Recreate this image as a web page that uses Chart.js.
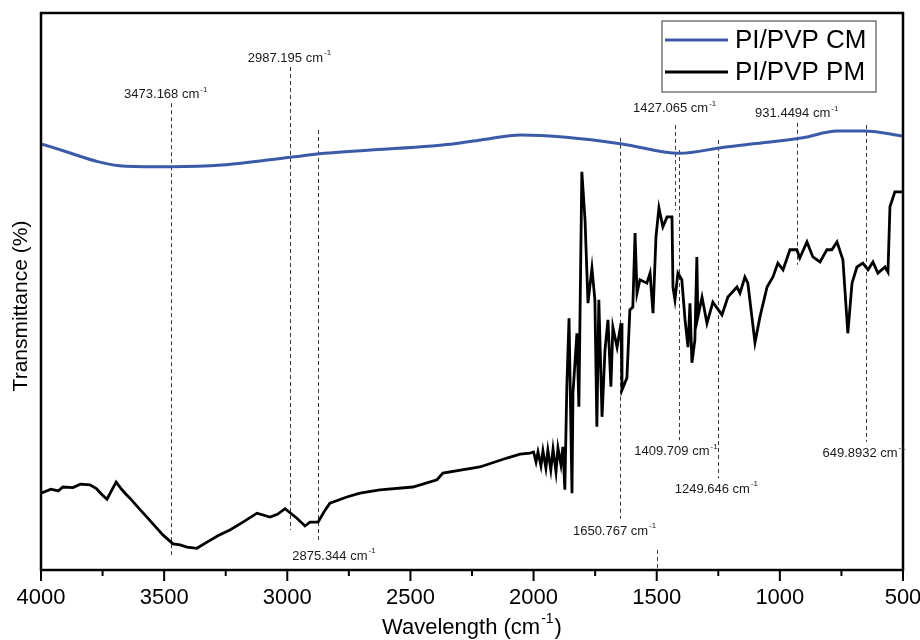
<!DOCTYPE html>
<html>
<head>
<meta charset="utf-8">
<script src="https://cdn.jsdelivr.net/npm/chart.js"></script>
<style>
  body { margin: 0; background: #fff; }
  canvas { display: block; }
</style>
</head>
<body>
<canvas id="ftir" width="920" height="640"></canvas>
<script>
// === data ===
const seriesLabels = ["PI/PVP CM", "PI/PVP PM"];

const cmWavenumbers = [4000, 3655, 3472, 3265, 2989, 2851, 2327, 2214, 2051, 1868, 1641, 1410, 1227, 1069, 906, 768, 654, 500];
const cmValues = [76.5, 72.5, 72.4, 72.7, 74.1, 74.8, 76.5, 77.2, 78.1, 77.7, 76.5, 74.8, 75.9, 76.7, 77.6, 78.8, 78.8, 77.9];

const pmWavenumbers = [
  4000, 3960, 3930, 3911, 3870, 3840, 3801, 3775, 3752, 3732, 3712, 3695, 3685, 3671, 3655, 3639,
  3605, 3570, 3540, 3505, 3464, 3435, 3407, 3367, 3326, 3280, 3233, 3180, 3123, 3070, 3040, 3009,
  2961, 2928, 2908, 2875, 2850, 2827, 2758, 2705, 2624, 2490, 2392, 2368, 2218, 2108, 2055, 2015,
  2000, 1990, 1982, 1970, 1962, 1950, 1942, 1930, 1921, 1909, 1901, 1889, 1881, 1873, 1865, 1856,
  1844, 1840, 1824, 1816, 1804, 1791, 1779, 1763, 1751, 1743, 1735, 1722, 1710, 1698, 1686, 1678,
  1661, 1645, 1641, 1621, 1609, 1597, 1588, 1580, 1568, 1540, 1527, 1515, 1503, 1491, 1475, 1458,
  1438, 1434, 1426, 1414, 1398, 1385, 1373, 1365, 1357, 1345, 1337, 1333, 1316, 1296, 1272, 1235,
  1211, 1174, 1162, 1142, 1130, 1101, 1081, 1052, 1028, 1008, 987, 959, 931, 919, 890, 866,
  837, 809, 789, 768, 744, 724, 707, 687, 663, 642, 622, 602, 573, 561, 553, 533, 500
];
const pmValues = [
  13.8, 14.5, 14.2, 14.9, 14.8, 15.4, 15.3, 14.6, 13.5, 12.7, 14.4, 15.8, 15.2, 14.4, 13.6, 12.9,
  11.2, 9.5, 8.0, 6.3, 4.7, 4.5, 4.1, 3.9, 5.0, 6.2, 7.2, 8.6, 10.2, 9.5, 10.0, 11.0,
  9.3, 7.9, 8.6, 8.6, 10.5, 12.0, 13.1, 13.8, 14.4, 14.9, 16.2, 17.4, 18.5, 20.1, 20.8, 21.0,
  21.2, 19.4, 21.2, 18.7, 21.4, 18.3, 21.5, 18.0, 21.7, 17.6, 21.9, 18.9, 22.1, 14.4, 32.9, 45.2,
  13.8, 31.8, 42.5, 29.3, 71.5, 62.8, 47.9, 54.2, 48.5, 25.7, 48.5, 27.5, 39.5, 44.9, 32.9, 43.6,
  40.0, 44.3, 32.3, 34.5, 46.7, 47.2, 60.5, 49.7, 52.1, 51.5, 53.3, 46.1, 59.8, 65.0, 61.6, 63.4,
  63.4, 50.8, 48.5, 53.3, 52.1, 44.9, 40.0, 47.9, 37.2, 41.3, 56.2, 45.4, 49.0, 44.3, 48.1, 45.8,
  49.0, 50.8, 49.7, 52.6, 51.5, 40.8, 45.4, 50.8, 52.6, 55.1, 53.9, 57.5, 57.5, 56.0, 58.9, 56.2,
  55.3, 57.5, 57.5, 58.9, 55.7, 42.5, 51.5, 54.4, 55.1, 53.9, 55.3, 53.3, 54.4, 53.5, 65.2, 67.9, 67.9
];

const xTickValues = [4000, 3500, 3000, 2500, 2000, 1500, 1000, 500];

const peakWavenumbers = [3473.168, 2987.195, 2875.344, 1650.767, 1427.065, 1409.709, 1249.646, 931.4494, 649.8932];
const peakLabels = ["3473.168", "2987.195", "2875.344", "1650.767", "1427.065", "1409.709", "1249.646", "931.4494", "649.8932"];

// where each marker line runs and where its label sits (in axis units / px offsets)
const peakLayout = [
  { top: 83.8, bottom: 2.7, labelY: 85.3, dx: -5 },
  { top: 90.3, bottom: 7.2, labelY: 91.9, dx: -1 },
  { top: 79.0, bottom: 5.4, labelY: 2.5, dx: 16 },
  { top: 77.6, bottom: 9.2, labelY: 7.0, dx: -5 },
  { top: 79.9, bottom: 64.6, labelY: 82.9, dx: 0 },
  { top: 75.4, bottom: 23.3, labelY: 21.2, dx: -3 },
  { top: 77.2, bottom: 16.5, labelY: 14.5, dx: -2 },
  { top: 80.3, bottom: 54.8, labelY: 82.0, dx: 0 },
  { top: 79.9, bottom: 23.0, labelY: 21.0, dx: -2 }
];
const strayDash = { at: 1500, top: 3.6, bottom: 0 };

const FONT = "'Liberation Sans', Arial, sans-serif";
const toPoints = (xs, ys) => xs.map((v, i) => ({ x: v, y: ys[i] }));

// tekst met superscript (cm^-1)
function supText(ctx, base, sup, cx, cy, size, align) {
  ctx.font = `${size}px ${FONT}`;
  const wb = ctx.measureText(base).width;
  const supSize = Math.round(size * 0.62);
  ctx.font = `${supSize}px ${FONT}`;
  const ws = ctx.measureText(sup).width;
  const total = wb + ws + 1;
  const left = align === "left" ? cx : cx - total / 2;
  ctx.textBaseline = "middle";
  ctx.textAlign = "left";
  ctx.font = `${size}px ${FONT}`;
  ctx.fillText(base, left, cy);
  ctx.font = `${supSize}px ${FONT}`;
  ctx.fillText(sup, left + wb + 1, cy - size * 0.38);
}

const decor = {
  id: "decor",
  beforeDatasetsDraw(chart) {
    const { ctx, scales: { x, y } } = chart;
    ctx.save();
    ctx.strokeStyle = "#3a3a3a";
    ctx.lineWidth = 1;
    ctx.setLineDash([4, 3]);
    const dash = (w, t, b) => {
      const px = Math.round(x.getPixelForValue(w)) + 0.5;
      ctx.beginPath();
      ctx.moveTo(px, y.getPixelForValue(t));
      ctx.lineTo(px, y.getPixelForValue(b));
      ctx.stroke();
    };
    peakWavenumbers.forEach((w, i) => dash(w, peakLayout[i].top, peakLayout[i].bottom));
    dash(strayDash.at, strayDash.top, strayDash.bottom);
    ctx.restore();
  },
  afterDraw(chart) {
    const { ctx, chartArea: a, scales: { x, y } } = chart;
    ctx.save();

    // frame
    ctx.strokeStyle = "#000";
    ctx.lineWidth = 2.5;
    ctx.strokeRect(a.left, a.top, a.right - a.left, a.bottom - a.top);

    // major + minor ticks (outside)
    ctx.lineWidth = 2;
    for (let v = 500; v <= 4000; v += 250) {
      const px = x.getPixelForValue(v);
      const len = v % 500 === 0 ? 11 : 6;
      ctx.beginPath();
      ctx.moveTo(px, a.bottom);
      ctx.lineTo(px, a.bottom + len);
      ctx.stroke();
    }

    // peak labels
    ctx.fillStyle = "#1a1a1a";
    peakWavenumbers.forEach((w, i) => {
      const lay = peakLayout[i];
      const cx = x.getPixelForValue(w) + lay.dx;
      const cy = y.getPixelForValue(lay.labelY);
      supText(ctx, peakLabels[i] + " cm", "-1", cx, cy, 13);
    });

    // legend (boxed, top right)
    const lx = a.right - 241, ly = a.top + 8, lw = 214, lh = 71;
    ctx.strokeStyle = "#555";
    ctx.lineWidth = 1.2;
    ctx.strokeRect(lx, ly, lw, lh);
    chart.data.datasets.forEach((ds, i) => {
      const rowY = ly + 19 + i * 32;
      ctx.strokeStyle = ds.borderColor;
      ctx.lineWidth = 3;
      ctx.beginPath();
      ctx.moveTo(lx + 3, rowY);
      ctx.lineTo(lx + 66, rowY);
      ctx.stroke();
      ctx.fillStyle = "#000";
      ctx.font = `26px ${FONT}`;
      ctx.textAlign = "left";
      ctx.textBaseline = "middle";
      ctx.fillText(ds.label, lx + 73, rowY + 1);
    });

    // axis titles
    ctx.fillStyle = "#000";
    ctx.font = `22px ${FONT}`;
    const baseW = ctx.measureText("Wavelength (cm").width;
    ctx.font = `14px ${FONT}`;
    const supW = ctx.measureText("-1").width;
    ctx.font = `22px ${FONT}`;
    const closeW = ctx.measureText(")").width;
    const tw = baseW + supW + closeW + 2;
    const tx = (a.left + a.right) / 2 - tw / 2;
    supText(ctx, "Wavelength (cm", "-1", tx, 628, 22, "left");
    ctx.font = `22px ${FONT}`;
    ctx.fillText(")", tx + baseW + supW + 2, 628);

    ctx.translate(21, 306);
    ctx.rotate(-Math.PI / 2);
    ctx.textAlign = "center";
    ctx.textBaseline = "middle";
    ctx.font = `21px ${FONT}`;
    ctx.fillText("Transmittance (%)", 0, 0);
    ctx.restore();
  }
};

new Chart(document.getElementById("ftir"), {
  type: "scatter",
  data: {
    datasets: [
      {
        label: seriesLabels[0],
        data: toPoints(cmWavenumbers, cmValues),
        showLine: true,
        borderColor: "#3b5ba8",
        borderWidth: 3,
        pointRadius: 0,
        cubicInterpolationMode: "monotone"
      },
      {
        label: seriesLabels[1],
        data: toPoints(pmWavenumbers, pmValues),
        showLine: true,
        borderColor: "#000000",
        borderWidth: 2.8,
        pointRadius: 0,
        tension: 0
      }
    ]
  },
  options: {
    responsive: false,
    animation: false,
    layout: { padding: { top: 13, right: 17, left: 0, bottom: 0 } },
    plugins: { legend: { display: false }, tooltip: { enabled: false } },
    scales: {
      x: {
        type: "linear",
        reverse: true,
        min: 500,
        max: 4000,
        afterBuildTicks: (s) => { s.ticks = xTickValues.map((v) => ({ value: v })); },
        ticks: {
          color: "#000",
          font: { family: FONT, size: 22 },
          padding: 15,
          maxRotation: 0,
          autoSkip: false,
          callback: (v) => String(v)
        },
        grid: { display: false, drawTicks: false },
        border: { display: false },
        afterFit: (s) => { s.height = 70; s.paddingLeft = 0; s.paddingRight = 0; }
      },
      y: {
        min: 0,
        max: 100,
        ticks: { display: false },
        grid: { display: false, drawTicks: false },
        border: { display: false },
        afterFit: (s) => { s.width = 41; }
      }
    }
  },
  plugins: [decor]
});
</script>
</body>
</html>
